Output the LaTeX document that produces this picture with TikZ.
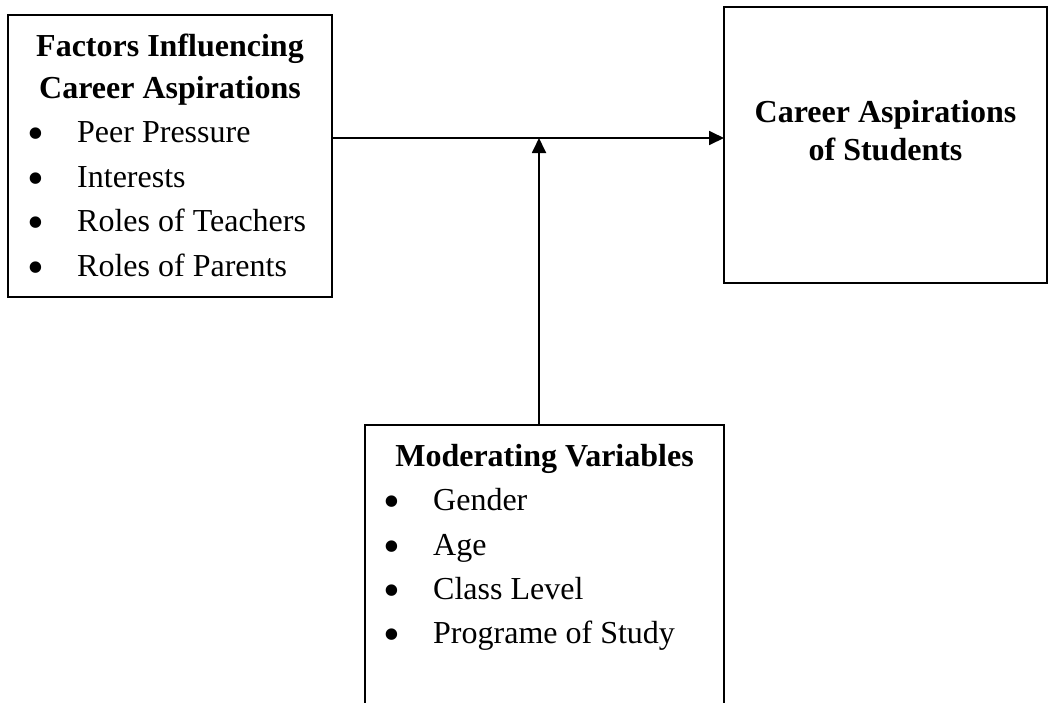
\documentclass[tikz,border=0pt]{standalone}
\usepackage{fontspec}
\setmainfont{Liberation Serif}
\usetikzlibrary{arrows.meta}
\tikzset{
  boxnode/.style={draw=black, line width=1.8pt, rectangle, inner sep=0pt, outer sep=0pt},
  openbox/.style={rectangle, inner sep=0pt, outer sep=0pt},
  title/.style={anchor=base, inner sep=0pt, font=\fontsize{32}{38}\selectfont\bfseries},
  item/.style={anchor=base west, inner sep=0pt, font=\fontsize{32}{38}\selectfont},
  bul/.style={anchor=base, inner sep=0pt, font=\fontsize{48}{48}\selectfont},
  link/.style={line width=1.8pt, -{Triangle[length=15pt,width=14pt]}}
}
\newcommand{\bl}{\smash{•}}
\begin{document}
\begin{tikzpicture}[x=1pt,y=-1pt]
\useasboundingbox (0,0) rectangle (1049,702);
% boxes
\node[boxnode, minimum width=324pt, minimum height=282pt] (left) at (170,156) {};
\node[boxnode, minimum width=323pt, minimum height=276pt] (right) at (885.5,145) {};
\node[openbox, minimum width=359pt, minimum height=280pt] (bot) at (544.5,565) {};
\draw[line width=1.8pt] (bot.south west) -- (bot.north west) -- (bot.north east) -- (bot.south east);
% left box text
\node[title] (lt1) at (170,56) {Factors Influencing};
\node[title] (lt2) at (170,98) {Career Aspirations};
\node[bul] (lb1) at (36,149) {\bl};
\node[item] (li1) at (77,142) {Peer Pressure};
\node[bul] (lb2) at (36,194) {\bl};
\node[item] (li2) at (77,187) {Interests};
\node[bul] (lb3) at (36,238) {\bl};
\node[item] (li3) at (77,231) {Roles of Teachers};
\node[bul] (lb4) at (36,283) {\bl};
\node[item] (li4) at (77,276) {Roles of Parents};
% right box text
\node[title] (rt1) at (885.5,122) {Career Aspirations};
\node[title] (rt2) at (885.5,160) {of Students};
% bottom box text
\node[title] (bt1) at (544.5,466) {Moderating Variables};
\node[bul] (bb1) at (392,517) {\bl};
\node[item] (bi1) at (433,510) {Gender};
\node[bul] (bb2) at (392,562) {\bl};
\node[item] (bi2) at (433,555) {Age};
\node[bul] (bb3) at (392,606) {\bl};
\node[item] (bi3) at (433,599) {Class Level};
\node[bul] (bb4) at (392,650) {\bl};
\node[item] (bi4) at (433,643) {Programe of Study};
% connectors
\coordinate (j) at (539,138);
\draw[link] (left.east |- j) -- (right.west |- j);
\draw[link] (bot.north -| j) -- (j);
\end{tikzpicture}
\end{document}
